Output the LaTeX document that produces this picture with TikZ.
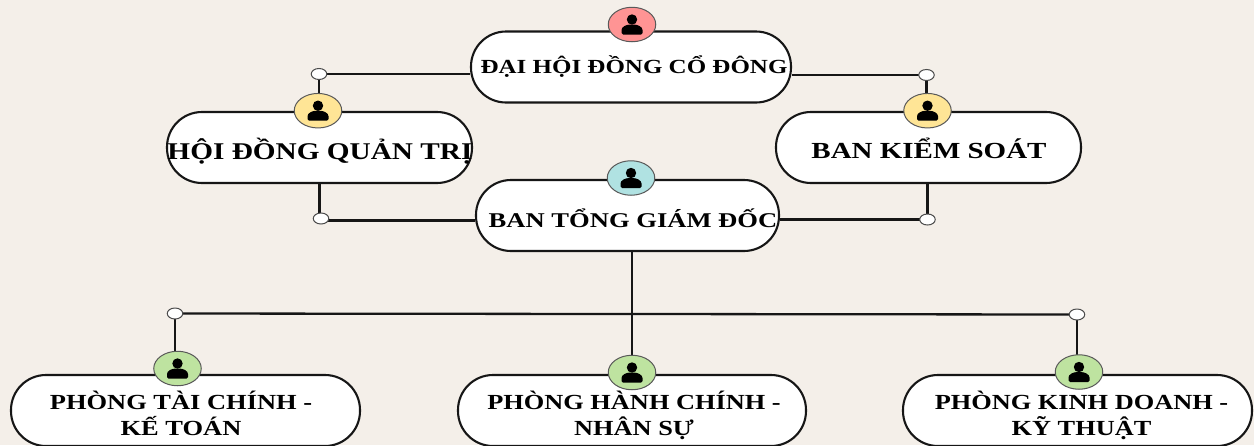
\documentclass[tikz,border=0pt]{standalone}
\usepackage{fontspec}
\usepackage{graphicx}
\setmainfont{Liberation Serif}
\usetikzlibrary{backgrounds,shapes.geometric}
\definecolor{paper}{HTML}{F4EFE9}
\definecolor{ink}{HTML}{161616}
\definecolor{redi}{HTML}{FF9494}
\definecolor{yeli}{HTML}{FFE596}
\definecolor{teali}{HTML}{B0E2E2}
\definecolor{greeni}{HTML}{BEE3A0}
\newcommand{\widen}[2]{\scalebox{#1}[1]{#2}}
\tikzset{
  orgbox/.style={draw=ink,fill=white,line width=2.1pt,rounded corners=35pt,minimum width=#1,minimum height=71pt,inner sep=0pt},
  orgtext/.style={align=center,inner sep=0pt,text=black,anchor=base},
  badge/.style={draw=black!65,line width=1pt,fill=#1,ellipse,minimum width=47.5pt,minimum height=34.5pt,inner sep=0pt},
  joint/.style={draw=black!70,line width=1pt,fill=white,ellipse,minimum width=15.5pt,minimum height=11pt,inner sep=0pt},
  link/.style={draw=ink,line width=2.3pt},
  person/.pic={
    \fill[black] (0,-5) circle[radius=5.2];
    \fill[black,rounded corners=1.5pt] (-10.5,10) -- (-10.5,7) .. controls (-10.5,2.5) and (-6,0) .. (0,0) .. controls (6,0) and (10.5,2.5) .. (10.5,7) -- (10.5,10) -- cycle;
  }
}
\begin{document}
\begin{tikzpicture}[x=1pt,y=-1pt]
\clip (0,0) rectangle (1254,445);
% boxes
\node[orgbox=320pt] (dhdcd) at (631,67) {};
\node[orgbox=305pt] (hdqt) at (319.5,147.5) {};
\node[orgbox=305pt] (bks) at (928.5,147.5) {};
\node[orgbox=303pt] (btgd) at (627.5,215.5) {};
\node[orgbox=349pt] (ptc) at (185.5,410.5) {};
\node[orgbox=348pt] (phc) at (632,410.5) {};
\node[orgbox=349pt] (pkd) at (1077.5,410.5) {};
% texts
\node[orgtext,font=\bfseries\fontsize{20}{24}\selectfont] (t1) at (634,73.5) {\widen{1.25}{ĐẠI HỘI ĐỒNG CỔ ĐÔNG}};
\node[orgtext,font=\bfseries\fontsize{24}{28}\selectfont] (t2) at (320,159) {\widen{1.22}{HỘI ĐỒNG QUẢN TRỊ}};
\node[orgtext,font=\bfseries\fontsize{23}{28}\selectfont] (t3) at (929,158.5) {\widen{1.26}{BAN KIỂM SOÁT}};
\node[orgtext,font=\bfseries\fontsize{21}{25}\selectfont] (t4) at (633,227) {\widen{1.265}{BAN TỔNG GIÁM ĐỐC}};
\node[orgtext,font=\bfseries\fontsize{21.5}{26.5}\selectfont] (t5) at (181,435.5) {\widen{1.23}{PHÒNG TÀI CHÍNH -}\\\widen{1.23}{KẾ TOÁN}};
\node[orgtext,font=\bfseries\fontsize{21.5}{26.5}\selectfont] (t6) at (634,435.5) {\widen{1.225}{PHÒNG HÀNH CHÍNH -}\\\widen{1.225}{NHÂN SỰ}};
\node[orgtext,font=\bfseries\fontsize{21.5}{26.5}\selectfont] (t7) at (1081.5,435.5) {\widen{1.225}{PHÒNG KINH DOANH -}\\\widen{1.225}{KỸ THUẬT}};
% badges
\node[badge=redi] (i1) at (632,24.5) {}; \pic at (i1.center) {person};
\node[badge=yeli] (i2) at (318,110.7) {}; \pic at (i2.center) {person};
\node[badge=yeli] (i3) at (927.5,110.7) {}; \pic at (i3.center) {person};
\node[badge=teali] (i4) at (631,178) {}; \pic at (i4.center) {person};
\node[badge=greeni] (i5) at (177.5,368.5) {}; \pic at (i5.center) {person};
\node[badge=greeni] (i6) at (632,372.5) {}; \pic at (i6.center) {person};
\node[badge=greeni] (i7) at (1079,372) {}; \pic at (i7.center) {person};
% joints
\node[joint] (j1) at (319,74) {};
\node[joint] (j2) at (926.5,75) {};
\node[joint] (j3) at (321,218.5) {};
\node[joint] (j4) at (927.5,219.5) {};
\node[joint] (j5) at (175,313.5) {};
\node[joint] (j6) at (1077,314.5) {};
\begin{pgfonlayer}{background}
\fill[paper] (0,0) rectangle (1254,445);
\draw[link] (j1.center) -- (dhdcd.west |- j1.center);
\draw[link] (j2.center) -- (dhdcd.east |- j2.center);
\draw[link] (j1.center) -- (j1.center |- i2.center);
\draw[link] (j2.center) -- (j2.center |- i3.center);
\draw[link] (hdqt.south) -- (hdqt.south |- j3.center);
\draw[link] ([yshift=-2pt]j3.center) -- ([yshift=-2pt]btgd.west |- j3.center);
\draw[link] (bks.south -| j4.center) -- (j4.center);
\draw[link] (j4.center) -- (btgd.east |- j4.center);
\draw[link] (btgd.south -| i6.center) -- (i6.center);
\draw[link] (j5.center) -- (j6.center);
\draw[link] (j5.center) -- (j5.center |- i5.center);
\draw[link] (j6.center) -- (j6.center |- i7.center);
\end{pgfonlayer}
\end{tikzpicture}
\end{document}
